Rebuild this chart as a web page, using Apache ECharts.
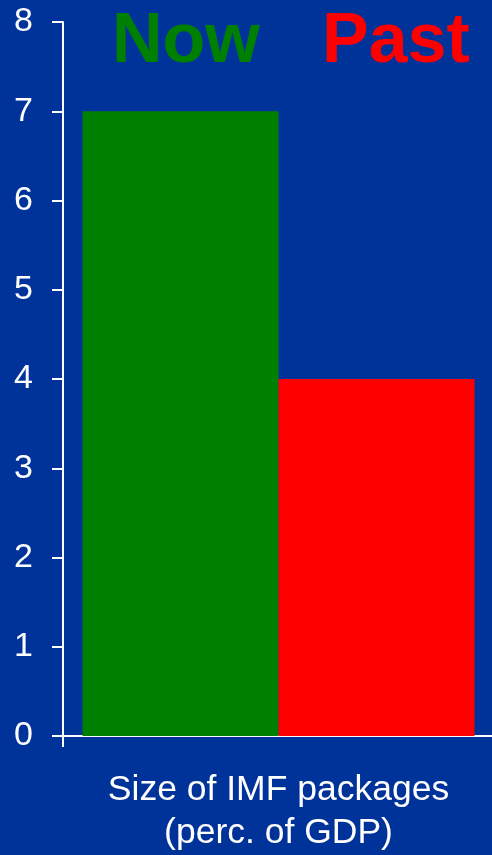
<!DOCTYPE html>
<html>
<head>
<meta charset="utf-8">
<script src="https://cdn.jsdelivr.net/npm/echarts@6/dist/echarts.min.js"></script>
<style>
  html, body { margin: 0; padding: 0; background: #003399; overflow: hidden; }
  #chart { width: 496px; height: 855px; }
</style>
</head>
<body>
<div id="chart"></div>
<script>
// Size of IMF packages, percent of GDP
const categories = ['Size of IMF packages\n(perc. of GDP)'];
const seriesNames = ['Now', 'Past'];
const nowValues = [7];
const pastValues = [4];
const seriesColors = ['#008000', '#ff0000'];

const FONT = '"Liberation Sans", Arial, sans-serif';
const chart = echarts.init(document.getElementById('chart'));

chart.setOption({
  backgroundColor: '#003399',
  animation: false,
  title: [
    {
      text: seriesNames[0],
      left: 112, top: 8, padding: 0,
      textStyle: { color: seriesColors[0], fontFamily: FONT, fontSize: 70, fontWeight: 'bold' }
    },
    {
      text: seriesNames[1],
      left: 322, top: 8, padding: 0,
      textStyle: { color: seriesColors[1], fontFamily: FONT, fontSize: 70, fontWeight: 'bold' }
    }
  ],
  // the right boundary tick sits just past the visible edge
  grid: { left: 63, right: 2, top: 22, bottom: 116.5, containLabel: false },
  xAxis: {
    type: 'category',
    data: categories,
    axisLine: { show: true, lineStyle: { color: '#ffffff', width: 2 } },
    axisTick: { show: true, length: 11, lineStyle: { color: '#ffffff', width: 2 } },
    axisLabel: {
      color: '#ffffff', fontFamily: FONT, fontSize: 35.5, lineHeight: 43, margin: 33
    }
  },
  yAxis: {
    type: 'value',
    min: 0, max: 8, interval: 1,
    axisLine: { show: true, lineStyle: { color: '#ffffff', width: 2 } },
    axisTick: { show: true, length: 11, lineStyle: { color: '#ffffff', width: 2 } },
    axisLabel: { color: '#ffffff', fontFamily: FONT, fontSize: 34, margin: 30 },
    splitLine: { show: false }
  },
  series: [
    {
      name: seriesNames[0], type: 'bar', data: nowValues,
      barWidth: 196, barGap: '0%',
      itemStyle: { color: seriesColors[0] }
    },
    {
      name: seriesNames[1], type: 'bar', data: pastValues,
      barWidth: 196, barGap: '0%',
      itemStyle: { color: seriesColors[1] }
    }
  ]
});
</script>
</body>
</html>
